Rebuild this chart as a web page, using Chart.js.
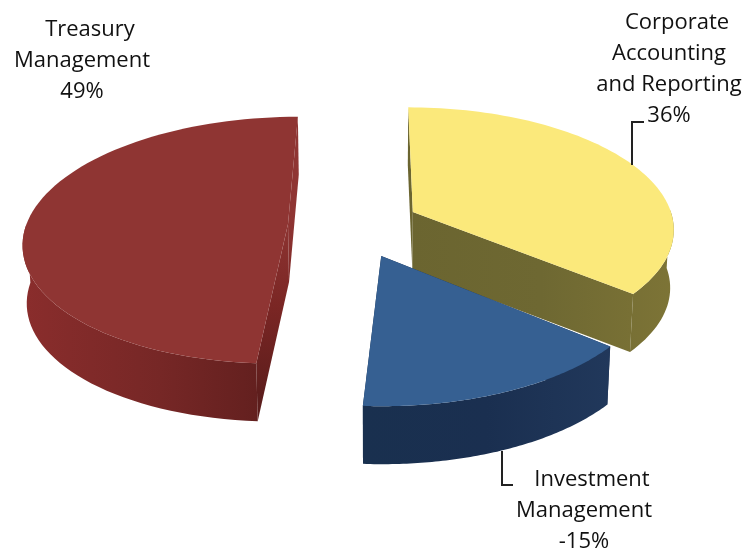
<!DOCTYPE html>
<html>
<head>
<meta charset="utf-8">
<title>Pie</title>
<script src="https://cdn.jsdelivr.net/npm/chart.js@4"></script>
<style>
    html, body { margin: 0; padding: 0; background: #fff; }
    canvas { display: block; }
</style>
</head>
<body>
<canvas id="pie" width="744" height="548"></canvas>
<script>
// Chart data, clockwise from the top
const categories = ['Corporate Accounting and Reporting', 'Investment Management', 'Treasury Management'];
const shares = [36, -15, 49];
const labelLines = [
    ['Corporate', 'Accounting', 'and Reporting'],
    ['Investment', 'Management'],
    ['Treasury', 'Management']
];

// Colours, same order as the data
const topColors = ['#fbe97b', '#366092', '#8f3533'];
const wallStops = [
    ['#6b6530', '#6e6832', '#7d7436'],
    ['#19304f', '#1a2f50', '#21385b'],
    ['#8a2d2c', '#762726', '#5c1d1c']
];
const explode = [68, 72, 66];

// Fake 3D settings
const view = {
    originX: 373, originY: 240, // where the tilted plane is anchored on screen
    pieX: -20.5, pieY: -32.6,   // pie centre on that plane
    horizonY: -700,             // where the plane vanishes
    tilt: 0.0005,
    radiusX: 266,
    radiusY: 267,
    depth: 58,
    shrink: 0.988               // underside is a bit narrower
};

const labelFont = '22px "Open Sans"';
const labelSlots = [
    { x: 669, y: 29 },
    { x: 584, y: 486 },
    { x: 82, y: 36 }
];
const lineGap = 31;

function project(px, py) {
    const planeX = view.pieX + px;
    const planeY = view.pieY + py;
    const w = 1 / (1 - view.tilt * planeY);
    return {
        x: view.originX + planeX * w,
        y: view.horizonY + (view.originY - view.horizonY) * w
    };
}

function under(p) {
    return {
        x: view.originX + (p.x - view.originX) * view.shrink,
        y: p.y + view.depth
    };
}

function tracePath(ctx, pts) {
    ctx.beginPath();
    pts.forEach((p, i) => (i ? ctx.lineTo(p.x, p.y) : ctx.moveTo(p.x, p.y)));
    ctx.closePath();
}

// Turns an arc element from the chart into projected outlines
function sliceOutline(arc) {
    const mid = (arc.startAngle + arc.endAngle) / 2;
    const shift = arc.options.offset;
    const ax = Math.cos(mid) * shift;
    const ay = Math.sin(mid) * shift;
    const rim = [];
    const front = [];
    const steps = 80;
    for (let i = 0; i <= steps; i++) {
        const a = arc.startAngle + (arc.endAngle - arc.startAngle) * i / steps;
        const p = project(ax + Math.cos(a) * view.radiusX, ay + Math.sin(a) * view.radiusY);
        rim.push(p);
        // only the half of the rim facing us shows a wall
        if (Math.sin(a) >= -0.02) front.push(p);
    }
    return { apex: project(ax, ay), rim, front };
}

function paintSlice(ctx, arc, index) {
    const { apex, rim, front } = sliceOutline(arc);
    const xs = rim.map(p => p.x).concat(apex.x);
    const grad = ctx.createLinearGradient(Math.min(...xs), 0, Math.max(...xs), 0);
    wallStops[index].forEach((c, i) => grad.addColorStop(i / 2, c));

    // the cut faces of the red slice melt into its top near the back
    let cutFill = grad;
    if (index === 2) {
        cutFill = ctx.createLinearGradient(0, 215, 0, 400);
        cutFill.addColorStop(0, topColors[index]);
        cutFill.addColorStop(0.5, '#7a2624');
        cutFill.addColorStop(1, '#5c1d1c');
    }
    ctx.fillStyle = cutFill;
    [rim[0], rim[rim.length - 1]].forEach(edge => {
        tracePath(ctx, [apex, edge, under(edge), under(apex)]);
        ctx.fill();
    });
    // round outer face
    ctx.fillStyle = grad;
    tracePath(ctx, front.concat(front.map(under).reverse()));
    ctx.fill();
    // top
    ctx.fillStyle = topColors[index];
    tracePath(ctx, [apex].concat(rim));
    ctx.fill();
}

function paintLabels(ctx) {
    ctx.font = labelFont;
    ctx.fillStyle = '#111';
    ctx.textAlign = 'center';
    ctx.textBaseline = 'alphabetic';
    categories.forEach((name, i) => {
        const slot = labelSlots[i];
        const lines = labelLines[i].concat(shares[i] + '%');
        lines.forEach((line, n) => {
            // first line sits a little to the right, as in the source
            ctx.fillText(line, slot.x + (n === 0 ? 8 : 0), slot.y + n * lineGap);
        });
    });
}

function paintLeaders(ctx) {
    ctx.strokeStyle = '#222';
    ctx.lineWidth = 2;
    ctx.beginPath();
    ctx.moveTo(632, 165); ctx.lineTo(632, 122); ctx.lineTo(644, 122);
    ctx.moveTo(502, 451); ctx.lineTo(502, 485); ctx.lineTo(513, 485);
    ctx.stroke();
}

const pseudo3d = {
    id: 'pseudo3d',
    beforeDatasetDraw(chart, args) {
        const ctx = chart.ctx;
        const arcs = chart.getDatasetMeta(args.index).data;
        // back to front
        [2, 0, 1].forEach(i => paintSlice(ctx, arcs[i], i));
        return false;
    },
    afterDraw(chart) {
        paintLeaders(chart.ctx);
        paintLabels(chart.ctx);
    }
};

new Chart(document.getElementById('pie'), {
    type: 'pie',
    data: {
        labels: categories,
        datasets: [{
            data: shares,
            backgroundColor: topColors,
            borderWidth: 0,
            offset: explode
        }]
    },
    options: {
        responsive: false,
        animation: false,
        rotation: 0,
        plugins: {
            legend: { display: false },
            tooltip: { enabled: false }
        }
    },
    plugins: [pseudo3d]
});
</script>
</body>
</html>
